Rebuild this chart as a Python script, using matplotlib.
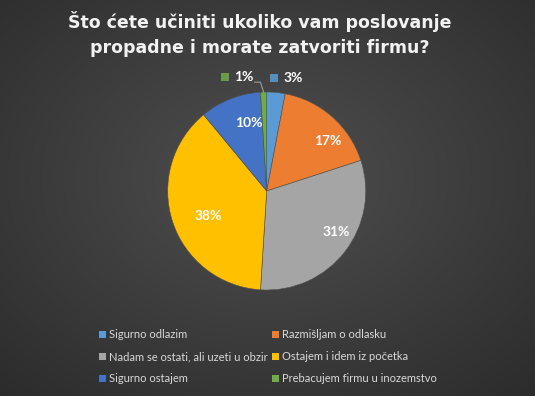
import numpy as np
import matplotlib.pyplot as plt
from matplotlib.patches import Patch

# podaci s grafa
kategorije = ['Sigurno odlazim', 'Razmišljam o odlasku', 'Nadam se ostati, ali uzeti u obzir',
              'Ostajem i idem iz početka', 'Sigurno ostajem', 'Prebacujem firmu u inozemstvo']
postoci = [3, 17, 31, 38, 10, 1]
boje = ['#5B9BD5', '#ED7D31', '#A5A5A5', '#FFC000', '#4472C4', '#70AD47']
naslov = 'Što ćete učiniti ukoliko vam poslovanje\npropadne i morate zatvoriti firmu?'

W, H = 535, 396
fig = plt.figure(figsize=(W / 100, H / 100), dpi=100)

# pozadina - radijalni gradijent
bg = fig.add_axes([0, 0, 1, 1])
yy, xx = np.mgrid[0:1:200j, 0:1:270j]
r = np.sqrt(((xx - 0.5) / 0.7) ** 2 + ((yy - 0.45) / 0.7) ** 2)
shade = np.clip(0.31 - 0.13 * r, 0.16, 0.31)
bg.imshow(np.dstack([shade] * 3), aspect='auto', extent=[0, 1, 0, 1])
bg.axis('off')

# pita
cx, cy, R = 266.7, 191, 99
half = 1.5 * R
ax = fig.add_axes([(cx - half) / W, (H - cy - half) / H, 2 * half / W, 2 * half / H])
wedges, _ = ax.pie(postoci, colors=boje, startangle=90, counterclock=False,
                   wedgeprops=dict(linewidth=0.4, edgecolor='#505050'))
ax.set_xlim(-1.5, 1.5)
ax.set_ylim(-1.5, 1.5)
ax.set_aspect('equal')
ax.axis('off')

# oznake postotaka (udaljenost od sredista i pomak)
udaljenost = [1.17, 0.80, 0.80, 0.64, 0.72, 1.17]
pomak_x = [0.16, 0.09, 0.07, 0.02, 0.08, -0.19]
pomak_y = [-0.02, -0.10, 0.08, -0.05, 0.02, -0.02]
for i, w in enumerate(wedges):
    kut = np.deg2rad((w.theta1 + w.theta2) / 2)
    x = udaljenost[i] * np.cos(kut) + pomak_x[i]
    y = udaljenost[i] * np.sin(kut) + pomak_y[i]
    tekst = '%d%%' % postoci[i]
    sirina = 0.083 * len(tekst)
    ax.text(x, y, tekst, color='white', fontsize=10, fontweight='bold',
            family='Lato', ha='center', va='center')
    ax.plot(x - sirina / 2 - 0.11, y, marker='s', markersize=5.5,
            color=boje[i], alpha=0.85, markeredgewidth=0)
    if udaljenost[i] > 1 and pomak_x[i] < 0:
        # linija vodilja za 1%
        kx, ky = np.cos(kut), np.sin(kut)
        kraj = x + sirina / 2 + 0.02
        ax.plot([kraj, kraj + 0.06, kx], [y - 0.05, y - 0.05, ky],
                color='#A6A6A6', linewidth=0.7)

fig.text(0.485, 1 - 34 / H, naslov, color='#F2F2F2', fontsize=12.5,
         fontweight='bold', family='DejaVu Sans', ha='center', va='center',
         linespacing=1.45)

# legenda
redoslijed = [0, 2, 4, 1, 3, 5]
ruke = [Patch(facecolor=boje[i], edgecolor='none') for i in redoslijed]
leg = fig.legend(ruke, [kategorije[i] for i in redoslijed], ncol=2,
                 loc='upper left', bbox_to_anchor=(99 / W, 1 - 329 / H),
                 frameon=False, handlelength=0.6, handleheight=0.6,
                 handletextpad=0.3, columnspacing=0.4, labelspacing=1.0,
                 borderaxespad=0, borderpad=0,
                 prop=dict(family='Lato', size=8))
for t in leg.get_texts():
    t.set_color('#D9D9D9')

fig.savefig('out.png', dpi=100)
